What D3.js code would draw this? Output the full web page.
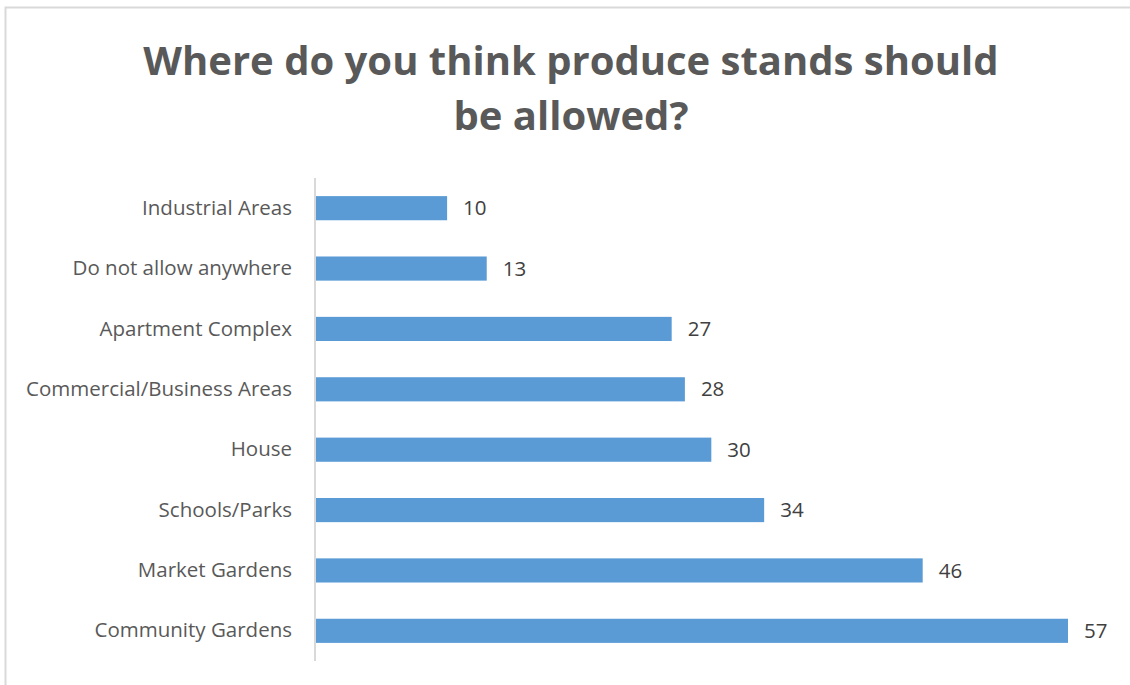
<!DOCTYPE html>
<html>
<head>
<meta charset="utf-8">
<script src="https://cdn.jsdelivr.net/npm/d3@7"></script>
<style>
  html, body { margin: 0; padding: 0; background: #fff; }
  svg { display: block; }
</style>
</head>
<body>
<svg id="chart" width="1130" height="685"></svg>
<script>
// Survey responses: where produce stands should be allowed
const categories = [
  "Industrial Areas",
  "Do not allow anywhere",
  "Apartment Complex",
  "Commercial/Business Areas",
  "House",
  "Schools/Parks",
  "Market Gardens",
  "Community Gardens"
];
const counts = [10, 13, 27, 28, 30, 34, 46, 57];
const titleLines = ["Where do you think produce stands should", "be allowed?"];

const W = 1130, H = 685;
const margin = { left: 315, top: 178, right: 1130 - 1068, bottom: 685 - 661 };

const svg = d3.select("#chart");

// chart frame
svg.append("rect")
  .attr("x", 5.5).attr("y", 7.5)
  .attr("width", W + 10).attr("height", H + 10)
  .attr("fill", "#fff")
  .attr("stroke", "#d9d9d9").attr("stroke-width", 2);

// title
const title = svg.append("text")
  .attr("text-anchor", "middle")
  .attr("font-family", "'Open Sans', sans-serif")
  .attr("font-weight", 700)
  .attr("font-size", 40)
  .attr("fill", "#595959");
titleLines.forEach((line, i) => {
  title.append("tspan")
    .attr("x", 571)
    .attr("y", 75 + i * 55)
    .text(line);
});

const x = d3.scaleLinear()
  .domain([0, 57])
  .range([margin.left, W - margin.right]);

const y = d3.scaleBand()
  .domain(categories)
  .range([margin.top, H - margin.bottom])
  .paddingInner(0.6)
  .paddingOuter(0.3);

// bars
svg.append("g")
  .selectAll("rect")
  .data(categories)
  .join("rect")
  .attr("x", x(0))
  .attr("y", d => y(d))
  .attr("width", (d, i) => x(counts[i]) - x(0))
  .attr("height", y.bandwidth())
  .attr("fill", "#5b9bd5");

// category axis
const yAxis = svg.append("g")
  .attr("transform", `translate(${x(0)},0)`)
  .call(d3.axisLeft(y).tickSize(0).tickPadding(23));
yAxis.select(".domain")
  .attr("stroke", "#d9d9d9")
  .attr("stroke-width", 2)
  .attr("d", `M0,${margin.top}V${H - margin.bottom}`);
yAxis.selectAll("text")
  .attr("font-family", "'Open Sans', sans-serif")
  .attr("font-size", 20.5)
  .attr("fill", "#595959");

// value labels
svg.append("g")
  .selectAll("text")
  .data(categories)
  .join("text")
  .attr("x", (d, i) => x(counts[i]) + 16)
  .attr("y", d => y(d) + y.bandwidth() / 2)
  .attr("dy", "0.35em")
  .attr("font-family", "'Open Sans', sans-serif")
  .attr("font-size", 20.5)
  .attr("fill", "#404040")
  .text((d, i) => counts[i]);
</script>
</body>
</html>
